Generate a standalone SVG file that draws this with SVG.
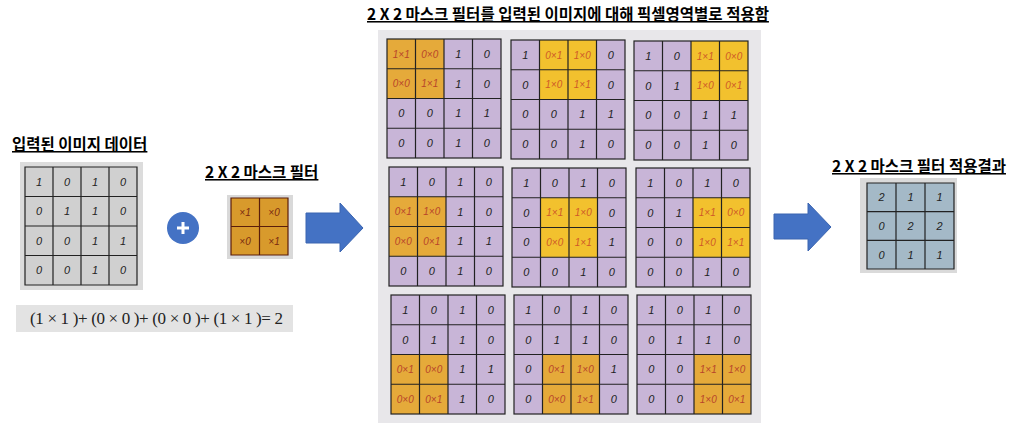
<svg xmlns="http://www.w3.org/2000/svg" xmlns:xlink="http://www.w3.org/1999/xlink" width="1018" height="423" viewBox="0 0 1018 423">
<style>
.title{font-family:"Noto Sans CJK KR","Noto Sans",sans-serif;font-weight:bold;font-size:15.5px;fill:#000;text-decoration:underline;}
.v{font-family:"Liberation Sans",sans-serif;font-style:italic;font-size:11px;fill:#222;text-anchor:middle;}
.h{font-family:"Liberation Sans",sans-serif;font-style:italic;font-size:10px;fill:#b8452a;text-anchor:middle;}
.hy{font-family:"Liberation Sans",sans-serif;font-style:italic;font-size:10px;fill:#cf5a28;text-anchor:middle;}
.m{font-family:"Liberation Sans",sans-serif;font-style:italic;font-size:10px;fill:#7a2a10;text-anchor:middle;}
.gl{fill:none;stroke:#222;stroke-width:1.2;}
.pur{fill:#c8b5d7;}
.org{fill:#e5aa3a;}
.yel{fill:#f2c12e;}
.arrow{fill:#4472c4;stroke:#3a64b0;stroke-width:1;}
</style>
<defs>
<g id="grid4">
<rect x="0" y="0" width="114" height="119" class="gl"/>
<path class="gl" d="M28.5,0V119M57,0V119M85.5,0V119M0,29.75H114M0,59.5H114M0,89.25H114"/>
</g>
</defs>
<rect width="1018" height="423" fill="#ffffff"/>

<g id="input-title"><text class="title" x="12" y="150">입력된 이미지 데이터</text></g>

<g id="input-grid">
<rect x="20" y="162" width="123" height="128" fill="#dcdcdc"/>
<rect x="25" y="167" width="112" height="118" fill="#d0d0d0"/>
<path class="gl" d="M25,167H137V285H25Z M53,167V285M81,167V285M109,167V285M25,196.5H137M25,226H137M25,255.5H137"/>
<text class="v" x="39" y="185.5">1</text><text class="v" x="67" y="185.5">0</text><text class="v" x="95" y="185.5">1</text><text class="v" x="123" y="185.5">0</text>
<text class="v" x="39" y="215">0</text><text class="v" x="67" y="215">1</text><text class="v" x="95" y="215">1</text><text class="v" x="123" y="215">0</text>
<text class="v" x="39" y="244.5">0</text><text class="v" x="67" y="244.5">0</text><text class="v" x="95" y="244.5">1</text><text class="v" x="123" y="244.5">1</text>
<text class="v" x="39" y="274">0</text><text class="v" x="67" y="274">0</text><text class="v" x="95" y="274">1</text><text class="v" x="123" y="274">0</text>
</g>

<g id="plus">
<circle cx="183" cy="228" r="16" fill="#4472c4"/>
<path d="M177,228H189M183,222V234" stroke="#ffffff" stroke-width="3" fill="none"/>
</g>

<g id="mask-title"><text class="title" x="205" y="178">2 X 2 마스크 필터</text></g>

<g id="mask">
<rect x="227" y="195" width="66" height="64" fill="#d9d9d9"/>
<rect x="231" y="198" width="57" height="57" fill="#d89a2c"/>
<path d="M231,198H288V255H231Z M259.5,198V255M231,226.5H288" fill="none" stroke="#5a1d0a" stroke-width="1.2"/>
<text class="m" x="245" y="216">×1</text><text class="m" x="274" y="216">×0</text>
<text class="m" x="245" y="245">×0</text><text class="m" x="274" y="245">×1</text>
</g>

<g id="formula">
<rect x="16" y="305" width="277" height="27" fill="#e3e3e3"/>
<text x="30" y="324" font-family="Liberation Serif, serif" font-size="17" fill="#222" textLength="253" lengthAdjust="spacing">(1 × 1 )+ (0 × 0 )+ (0 × 0 )+ (1 × 1 )= 2</text>
</g>

<g id="steps-title"><text class="title" x="367" y="20">2 X 2 마스크 필터를 입력된 이미지에 대해 픽셀영역별로 적용함</text></g>

<g id="steps">
<rect x="378" y="30" width="383" height="393" fill="#e8e7ea"/>

<g id="step1" transform="translate(387,39)">
<rect class="pur" width="114" height="119"/><rect class="org" width="57" height="59.5"/>
<use xlink:href="#grid4"/>
<text class="h" x="14.25" y="18.5">1×1</text><text class="h" x="42.75" y="18.5">0×0</text><text class="v" x="71.25" y="19">1</text><text class="v" x="99.75" y="19">0</text>
<text class="h" x="14.25" y="48.2">0×0</text><text class="h" x="42.75" y="48.2">1×1</text><text class="v" x="71.25" y="48.6">1</text><text class="v" x="99.75" y="48.6">0</text>
<text class="v" x="14.25" y="78.4">0</text><text class="v" x="42.75" y="78.4">0</text><text class="v" x="71.25" y="78.4">1</text><text class="v" x="99.75" y="78.4">1</text>
<text class="v" x="14.25" y="108.1">0</text><text class="v" x="42.75" y="108.1">0</text><text class="v" x="71.25" y="108.1">1</text><text class="v" x="99.75" y="108.1">0</text>
</g>

<g id="step2" transform="translate(511,40)">
<rect class="pur" width="114" height="119"/><rect class="yel" x="28.5" width="57" height="59.5"/>
<use xlink:href="#grid4"/>
<text class="v" x="14.25" y="19">1</text><text class="hy" x="42.75" y="18.5">0×1</text><text class="hy" x="71.25" y="18.5">1×0</text><text class="v" x="99.75" y="19">0</text>
<text class="v" x="14.25" y="48.6">0</text><text class="hy" x="42.75" y="48.2">1×0</text><text class="hy" x="71.25" y="48.2">1×1</text><text class="v" x="99.75" y="48.6">0</text>
<text class="v" x="14.25" y="78.4">0</text><text class="v" x="42.75" y="78.4">0</text><text class="v" x="71.25" y="78.4">1</text><text class="v" x="99.75" y="78.4">1</text>
<text class="v" x="14.25" y="108.1">0</text><text class="v" x="42.75" y="108.1">0</text><text class="v" x="71.25" y="108.1">1</text><text class="v" x="99.75" y="108.1">0</text>
</g>

<g id="step3" transform="translate(634,41)">
<rect class="pur" width="114" height="119"/><rect class="yel" x="57" width="57" height="59.5"/>
<use xlink:href="#grid4"/>
<text class="v" x="14.25" y="19">1</text><text class="v" x="42.75" y="19">0</text><text class="hy" x="71.25" y="18.5">1×1</text><text class="hy" x="99.75" y="18.5">0×0</text>
<text class="v" x="14.25" y="48.6">0</text><text class="v" x="42.75" y="48.6">1</text><text class="hy" x="71.25" y="48.2">1×0</text><text class="hy" x="99.75" y="48.2">0×1</text>
<text class="v" x="14.25" y="78.4">0</text><text class="v" x="42.75" y="78.4">0</text><text class="v" x="71.25" y="78.4">1</text><text class="v" x="99.75" y="78.4">1</text>
<text class="v" x="14.25" y="108.1">0</text><text class="v" x="42.75" y="108.1">0</text><text class="v" x="71.25" y="108.1">1</text><text class="v" x="99.75" y="108.1">0</text>
</g>

<g id="step4" transform="translate(389,167)">
<rect class="pur" width="114" height="119"/><rect class="org" y="29.75" width="57" height="59.5"/>
<use xlink:href="#grid4"/>
<text class="v" x="14.25" y="19">1</text><text class="v" x="42.75" y="19">0</text><text class="v" x="71.25" y="19">1</text><text class="v" x="99.75" y="19">0</text>
<text class="h" x="14.25" y="48.2">0×1</text><text class="h" x="42.75" y="48.2">1×0</text><text class="v" x="71.25" y="48.6">1</text><text class="v" x="99.75" y="48.6">0</text>
<text class="h" x="14.25" y="78">0×0</text><text class="h" x="42.75" y="78">0×1</text><text class="v" x="71.25" y="78.4">1</text><text class="v" x="99.75" y="78.4">1</text>
<text class="v" x="14.25" y="108.1">0</text><text class="v" x="42.75" y="108.1">0</text><text class="v" x="71.25" y="108.1">1</text><text class="v" x="99.75" y="108.1">0</text>
</g>

<g id="step5" transform="translate(512,168)">
<rect class="pur" width="114" height="119"/><rect class="yel" x="28.5" y="29.75" width="57" height="59.5"/>
<use xlink:href="#grid4"/>
<text class="v" x="14.25" y="19">1</text><text class="v" x="42.75" y="19">0</text><text class="v" x="71.25" y="19">1</text><text class="v" x="99.75" y="19">0</text>
<text class="v" x="14.25" y="48.6">0</text><text class="hy" x="42.75" y="48.2">1×1</text><text class="hy" x="71.25" y="48.2">1×0</text><text class="v" x="99.75" y="48.6">0</text>
<text class="v" x="14.25" y="78.4">0</text><text class="hy" x="42.75" y="78">0×0</text><text class="hy" x="71.25" y="78">1×1</text><text class="v" x="99.75" y="78.4">1</text>
<text class="v" x="14.25" y="108.1">0</text><text class="v" x="42.75" y="108.1">0</text><text class="v" x="71.25" y="108.1">1</text><text class="v" x="99.75" y="108.1">0</text>
</g>

<g id="step6" transform="translate(636,168)">
<rect class="pur" width="114" height="119"/><rect class="yel" x="57" y="29.75" width="57" height="59.5"/>
<use xlink:href="#grid4"/>
<text class="v" x="14.25" y="19">1</text><text class="v" x="42.75" y="19">0</text><text class="v" x="71.25" y="19">1</text><text class="v" x="99.75" y="19">0</text>
<text class="v" x="14.25" y="48.6">0</text><text class="v" x="42.75" y="48.6">1</text><text class="hy" x="71.25" y="48.2">1×1</text><text class="hy" x="99.75" y="48.2">0×0</text>
<text class="v" x="14.25" y="78.4">0</text><text class="v" x="42.75" y="78.4">0</text><text class="hy" x="71.25" y="78">1×0</text><text class="hy" x="99.75" y="78">1×1</text>
<text class="v" x="14.25" y="108.1">0</text><text class="v" x="42.75" y="108.1">0</text><text class="v" x="71.25" y="108.1">1</text><text class="v" x="99.75" y="108.1">0</text>
</g>

<g id="step7" transform="translate(391,295)">
<rect class="pur" width="114" height="119"/><rect class="org" y="59.5" width="57" height="59.5"/>
<use xlink:href="#grid4"/>
<text class="v" x="14.25" y="19">1</text><text class="v" x="42.75" y="19">0</text><text class="v" x="71.25" y="19">1</text><text class="v" x="99.75" y="19">0</text>
<text class="v" x="14.25" y="48.6">0</text><text class="v" x="42.75" y="48.6">1</text><text class="v" x="71.25" y="48.6">1</text><text class="v" x="99.75" y="48.6">0</text>
<text class="h" x="14.25" y="78">0×1</text><text class="h" x="42.75" y="78">0×0</text><text class="v" x="71.25" y="78.4">1</text><text class="v" x="99.75" y="78.4">1</text>
<text class="h" x="14.25" y="107.7">0×0</text><text class="h" x="42.75" y="107.7">0×1</text><text class="v" x="71.25" y="108.1">1</text><text class="v" x="99.75" y="108.1">0</text>
</g>

<g id="step8" transform="translate(514,295)">
<rect class="pur" width="114" height="119"/><rect class="org" x="28.5" y="59.5" width="57" height="59.5"/>
<use xlink:href="#grid4"/>
<text class="v" x="14.25" y="19">1</text><text class="v" x="42.75" y="19">0</text><text class="v" x="71.25" y="19">1</text><text class="v" x="99.75" y="19">0</text>
<text class="v" x="14.25" y="48.6">0</text><text class="v" x="42.75" y="48.6">1</text><text class="v" x="71.25" y="48.6">1</text><text class="v" x="99.75" y="48.6">0</text>
<text class="v" x="14.25" y="78.4">0</text><text class="h" x="42.75" y="78">0×1</text><text class="h" x="71.25" y="78">1×0</text><text class="v" x="99.75" y="78.4">1</text>
<text class="v" x="14.25" y="108.1">0</text><text class="h" x="42.75" y="107.7">0×0</text><text class="h" x="71.25" y="107.7">1×1</text><text class="v" x="99.75" y="108.1">0</text>
</g>

<g id="step9" transform="translate(637,295)">
<rect class="pur" width="114" height="119"/><rect class="org" x="57" y="59.5" width="57" height="59.5"/>
<use xlink:href="#grid4"/>
<text class="v" x="14.25" y="19">1</text><text class="v" x="42.75" y="19">0</text><text class="v" x="71.25" y="19">1</text><text class="v" x="99.75" y="19">0</text>
<text class="v" x="14.25" y="48.6">0</text><text class="v" x="42.75" y="48.6">1</text><text class="v" x="71.25" y="48.6">1</text><text class="v" x="99.75" y="48.6">0</text>
<text class="v" x="14.25" y="78.4">0</text><text class="v" x="42.75" y="78.4">0</text><text class="h" x="71.25" y="78">1×1</text><text class="h" x="99.75" y="78">1×0</text>
<text class="v" x="14.25" y="108.1">0</text><text class="v" x="42.75" y="108.1">0</text><text class="h" x="71.25" y="107.7">1×0</text><text class="h" x="99.75" y="107.7">0×1</text>
</g>
</g>

<g id="result-title"><text class="title" x="832" y="172">2 X 2 마스크 필터 적용결과</text></g>

<g id="result">
<rect x="860" y="178" width="97" height="95" fill="#dadada"/>
<rect x="867" y="183" width="87" height="86" fill="#a4b9c7"/>
<path class="gl" d="M867,183H954V269H867Z M896,183V269M925,183V269M867,211.7H954M867,240.3H954"/>
<text class="v" x="881.5" y="201.3">2</text><text class="v" x="910.5" y="201.3">1</text><text class="v" x="939.5" y="201.3">1</text>
<text class="v" x="881.5" y="230">0</text><text class="v" x="910.5" y="230">2</text><text class="v" x="939.5" y="230">2</text>
<text class="v" x="881.5" y="258.7">0</text><text class="v" x="910.5" y="258.7">1</text><text class="v" x="939.5" y="258.7">1</text>
</g>

<g id="connectors">
<path class="arrow" d="M306,213L340,213L340,203L363,228L340,252L340,243L306,243Z"/>
<path class="arrow" d="M774,214L808,214L808,203L831,227L808,251L808,239L774,239Z"/>
</g>
</svg>
